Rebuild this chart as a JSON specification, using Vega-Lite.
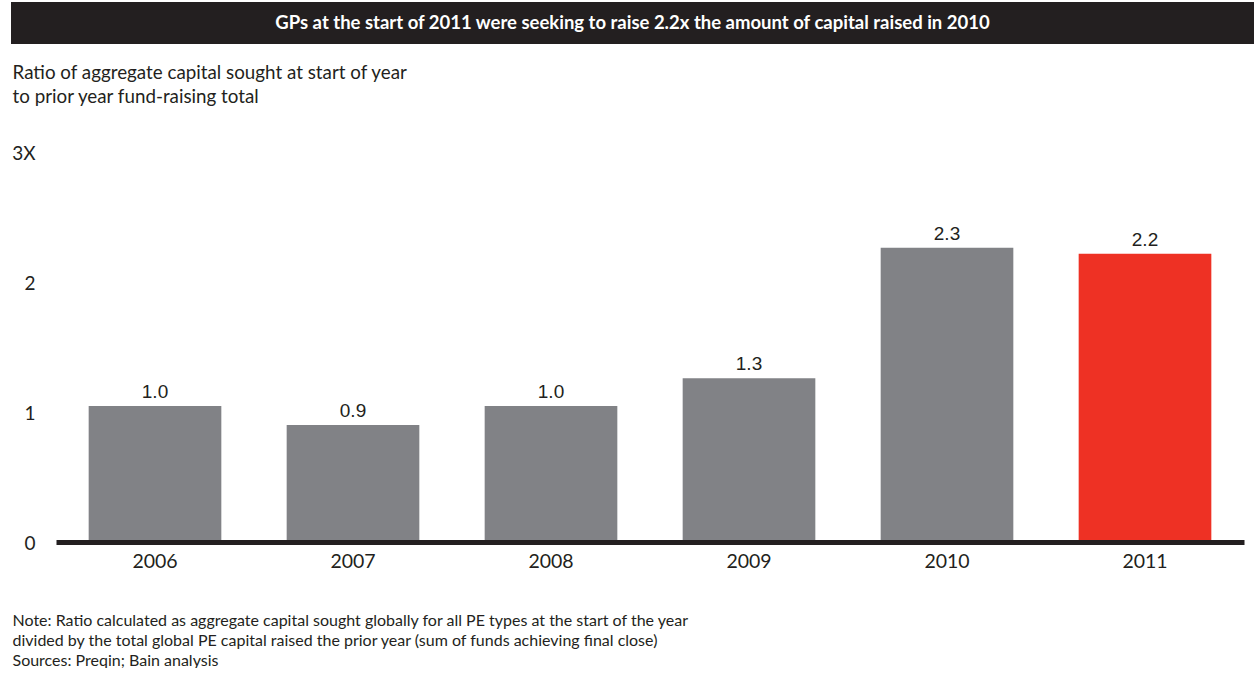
{
  "$schema": "https://vega.github.io/schema/vega-lite/v6.json",
  "background": "white",
  "padding": {"left": 11, "top": 2, "right": 0, "bottom": 0},
  "spacing": 19,
  "config": {"view": {"stroke": null}, "font": "Lato"},
  "vconcat": [
    {
      "width": 1243,
      "height": 42,
      "view": {"fill": "#231f20", "stroke": null},
      "data": {"values": [{"title": "GPs at the start of 2011 were seeking to raise 2.2x the amount of capital raised in 2010"}]},
      "mark": {"type": "text", "color": "white", "font": "Lato", "fontWeight": "bold", "fontSize": 18.5, "align": "center", "baseline": "middle"},
      "encoding": {"text": {"field": "title", "type": "nominal"}}
    },
    {
      "width": 1233,
      "height": 390,
      "data": {"values": [
        {"year": "2006", "ratio": 1.046},
        {"year": "2007", "ratio": 0.9},
        {"year": "2008", "ratio": 1.046},
        {"year": "2009", "ratio": 1.26},
        {"year": "2010", "ratio": 2.264},
        {"year": "2011", "ratio": 2.218}
      ]},
      "encoding": {
        "x": {
          "field": "year",
          "type": "ordinal",
          "scale": {"range": [45, 1233], "paddingInner": 0.33, "paddingOuter": 0.165},
          "axis": {
            "labelAngle": 0,
            "labelFont": "Lato",
            "labelFontSize": 19.5,
            "labelColor": "#231f20",
            "labelPadding": 10,
            "ticks": false,
            "domainWidth": 5,
            "domainColor": "#231f20",
            "zindex": 1,
            "title": [
              "Note: Ratio calculated as aggregate capital sought globally for all PE types at the start of the year",
              "divided by the total global PE capital raised the prior year (sum of funds achieving final close)",
              "Sources: Preqin; Bain analysis"
            ],
            "titleFont": "Lato",
            "titleFontSize": 16,
            "titleFontWeight": "normal",
            "titleColor": "#231f20",
            "titleLineHeight": 20,
            "titleAlign": "left",
            "titleAnchor": "start",
            "titleBaseline": "top",
            "titleX": 1,
            "titleY": 70
          }
        },
        "y": {
          "field": "ratio",
          "type": "quantitative",
          "scale": {"domain": [0, 3]},
          "axis": {
            "values": [0, 1, 2, 3],
            "grid": false,
            "domain": false,
            "ticks": false,
            "labelAlign": "right",
            "labelPadding": -24,
            "labelOffset": 1,
            "labelFont": "Lato",
            "labelFontSize": 19,
            "labelColor": "#231f20",
            "labelExpr": "datum.value == 3 ? '3X' : datum.label",
            "title": [
              "Ratio of aggregate capital sought at start of year",
              "to prior year fund-raising total"
            ],
            "titleFont": "Lato",
            "titleFontSize": 18.8,
            "titleFontWeight": "normal",
            "titleColor": "#231f20",
            "titleLineHeight": 24,
            "titleAngle": 0,
            "titleAlign": "left",
            "titleBaseline": "top",
            "titleX": 1,
            "titleY": -89
          }
        }
      },
      "layer": [
        {
          "mark": {"type": "bar"},
          "encoding": {
            "color": {
              "condition": {"test": "datum.year == '2011'", "value": "#ee3124"},
              "value": "#818286"
            }
          }
        },
        {
          "mark": {"type": "text", "font": "Liberation Sans", "fontSize": 19, "color": "#231f20", "baseline": "alphabetic", "dy": -8},
          "encoding": {"text": {"field": "ratio", "type": "quantitative", "format": ".1f"}}
        }
      ]
    }
  ]
}
